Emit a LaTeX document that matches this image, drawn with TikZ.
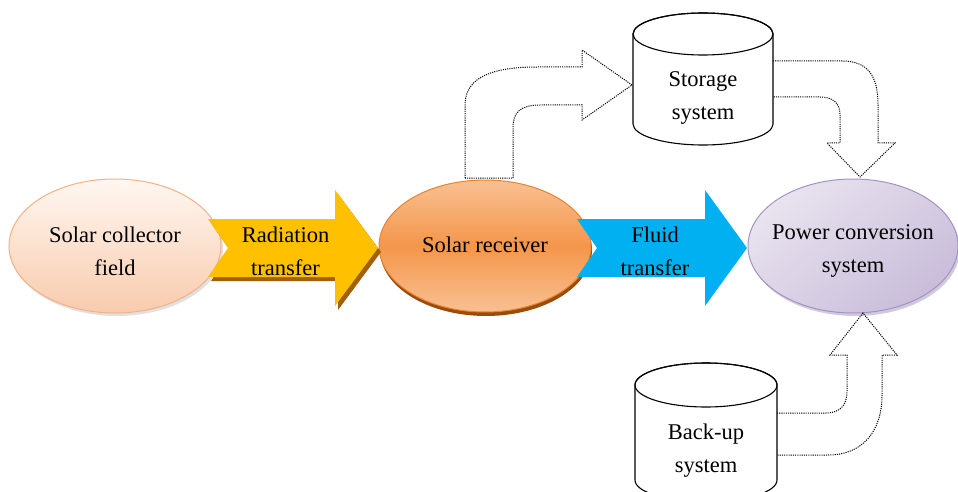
\documentclass[tikz,border=0pt]{standalone}
\usepackage{fontspec}
\setmainfont{Liberation Serif}
\usetikzlibrary{shapes.geometric,shadows}

\definecolor{collBorder}{HTML}{F4B183}
\definecolor{collTop}{HTML}{FFF7F1}
\definecolor{collBottom}{HTML}{F8CBAD}
\definecolor{recBorder}{HTML}{E8832F}
\definecolor{recLight}{HTML}{F9C093}
\definecolor{recMid}{HTML}{F4964A}
\definecolor{recShadow}{HTML}{9A4C0B}
\definecolor{powBorder}{HTML}{A393BF}
\definecolor{powLight}{HTML}{E9E3EF}
\definecolor{powDark}{HTML}{C9BDDA}
\definecolor{radYellow}{HTML}{FFC000}
\definecolor{radShadow}{HTML}{A0600A}
\definecolor{fluidBlue}{HTML}{00B0F0}

\begin{document}
\begin{tikzpicture}
[x=1pt,y=-1pt,
  ellipseDecorate/.style={shape=ellipse,inner sep=0pt,line width=1pt,
    minimum width=212pt,minimum height=134pt},
  textDecorate/.style={align=center,inner sep=0pt,font=\fontsize{22.5}{33}\selectfont},
  dottedArrow/.style={line width=1pt,dash pattern=on 1.1pt off 1.1pt},
  tankDecorate/.style={draw=black,line width=1.1pt,fill=white}]
\useasboundingbox (0,0) rectangle (958,492);

%% ellipses
\node (collector) at (115,246) [ellipseDecorate,draw=collBorder,
  top color=collTop,bottom color=collBottom,
  drop shadow={shadow xshift=2pt,shadow yshift=-3pt,fill=black,opacity=0.12}] {};
\node (receiver) at (485,246) [ellipseDecorate,minimum height=132pt,draw=recBorder,
  top color=recLight,bottom color=recLight,middle color=recMid,
  drop shadow={shadow xshift=1pt,shadow yshift=-4pt,fill=recShadow,opacity=1}] {};
\node (power) at (853,246) [ellipseDecorate,minimum width=210pt,draw=powBorder,
  top color=powLight,bottom color=powDark,shading angle=40,
  drop shadow={shadow xshift=2pt,shadow yshift=-3pt,fill=powBorder,opacity=0.5}] {};

%% fat arrows
\foreach \arrowname/\xs/\xb/\xt/\fillcol/\shadecol/\txt in {
  radiation/208/335/378/radYellow/radShadow/{Radiation\\transfer},
  fluid/577/705/747/fluidBlue/none/{Fluid\\transfer}}
{
  \path[fill=\shadecol,shift={(3,4)}] (\xs,219) -- (\xs+20,248) -- (\xs,277) -- (\xb,277)
    -- (\xb,306) -- (\xt,248) -- (\xb,190) -- (\xb,219) -- cycle;
  \path[fill=\fillcol] (\xs,219) -- (\xs+20,248) -- (\xs,277) -- (\xb,277)
    -- (\xb,306) -- (\xt,248) -- (\xb,190) -- (\xb,219) -- cycle;
  \node (\arrowname) at ({(\xs+\xb)/2+14},251) [textDecorate] {\txt};
}

%% texts of the ellipses
\node (collectorText) at (115,251) [textDecorate] {Solar collector\\field};
\node (receiverText) at (485,245) [textDecorate] {Solar receiver};
\node (powerText) at (853,251) [textDecorate] {Power conversion\\system};

%% dotted bent arrows
\draw[dottedArrow] (465,178) -- (465,105) .. controls (465,76) and (495,67) .. (537,67)
  -- (582,67) -- (582,50) -- (632,85) -- (582,120) -- (582,105) -- (540,105)
  .. controls (521,105) and (513,112) .. (513,127) -- (513,178) -- cycle;
\draw[dottedArrow] (773,61) -- (842,61) .. controls (868,61) and (878,76) .. (878,105)
  -- (878,143) -- (895,143) -- (860,177) -- (827,143) -- (840,143) -- (840,115)
  .. controls (840,103) and (833,97) .. (820,97) -- (773,97);
\draw[dottedArrow] (777,413) -- (826,413) .. controls (840,413) and (847,405) .. (847,392)
  -- (847,355) -- (830,355) -- (863,313) -- (897,355) -- (882,355) -- (882,395)
  .. controls (882,432) and (862,455) .. (828,455) -- (777,455);

%% tanks
\path[tankDecorate] (633,34) -- (633,124) arc[start angle=180,end angle=0,x radius=70,y radius=21]
  -- (773,34) arc[start angle=0,end angle=-180,x radius=70,y radius=21] -- cycle;
\draw[line width=1.1pt] (703,34) ellipse [x radius=70,y radius=21];
\node (storage) at (703,98) [textDecorate] {Storage\\system};

\path[tankDecorate] (635,385) -- (635,480) arc[start angle=180,end angle=0,x radius=71,y radius=22]
  -- (777,385) arc[start angle=0,end angle=-180,x radius=71,y radius=22] -- cycle;
\draw[line width=1.1pt] (706,385) ellipse [x radius=71,y radius=22];
\node (backup) at (706,451) [textDecorate] {Back-up\\system};
\end{tikzpicture}
\end{document}
